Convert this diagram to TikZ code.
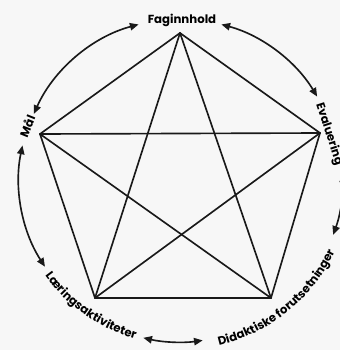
\documentclass[tikz,border=0pt]{standalone}
\usepackage{fontspec}
\setmainfont{Poppins}
\usetikzlibrary{arrows.meta,decorations.text}
\tikzset{
  kant/.style    = {line width=1.4pt, black!90, line cap=round},
  pil/.style     = {{Triangle[length=2.6mm,width=2.2mm]}-{Triangle[length=2.6mm,width=2.2mm]},
                    line width=1.4pt, black!90},
  etikett/.style = {font=\bfseries\fontsize{10}{12}\selectfont, inner sep=1pt},
  buetekst/.style = {decoration={text along path, text align=center,
                     text={|\bfseries\fontsize{10}{12}\selectfont|#1}},
                     decorate}
}
\begin{document}
\begin{tikzpicture}[x=0.03cm,y=0.03cm]
  \useasboundingbox[fill=black!3] (-180,-171) rectangle (160,179);
  \clip (-180,-171) rectangle (160,179);
  % hjørnene i femkanten
  \coordinate (fag) at (0,146);
  \coordinate (maal) at (-140,45);
  \coordinate (eval) at (140,46);
  \coordinate (laer) at (-85,-119);
  \coordinate (did) at (91,-119);
  \foreach \a/\b in {fag/maal,fag/eval,fag/laer,fag/did,maal/eval,
                     maal/laer,maal/did,eval/laer,eval/did,laer/did}
    \draw[kant] (\a) -- (\b);
  % etikettene
  \node[etikett] (tfag)  at (2,159)   {Faginnhold};
  \node[etikett,rotate=68]  (tmaal) at (-153,53) {Mål};
  \node[etikett,rotate=-72] (teval) at (149,45)  {Evaluering};
  \path[buetekst={Læringsaktiviteter}]
        (214:166) arc[start angle=214, end angle=256, radius=166];
  \path[buetekst={Didaktiske forutsetninger}]
        (281:171) arc[start angle=281, end angle=337, radius=171];
  % piler rundt sirkelen
  \coordinate (p1) at (105:160);
  \coordinate (p2) at (75:160);
  \coordinate (p3) at (168:161);
  \coordinate (p4) at (257:163);
  \coordinate (p5) at (2:163);
  \draw[pil] (p1) arc[start angle=105, end angle=156, radius=160];
  \draw[pil] (p2) arc[start angle=75, end angle=31, radius=160];
  \draw[pil] (p3) arc[start angle=168, end angle=213, radius=161];
  \draw[pil] (p4) arc[start angle=257, end angle=278, radius=163];
  \draw[pil] (p5) arc[start angle=2, end angle=-20, radius=163];
\end{tikzpicture}
\end{document}
